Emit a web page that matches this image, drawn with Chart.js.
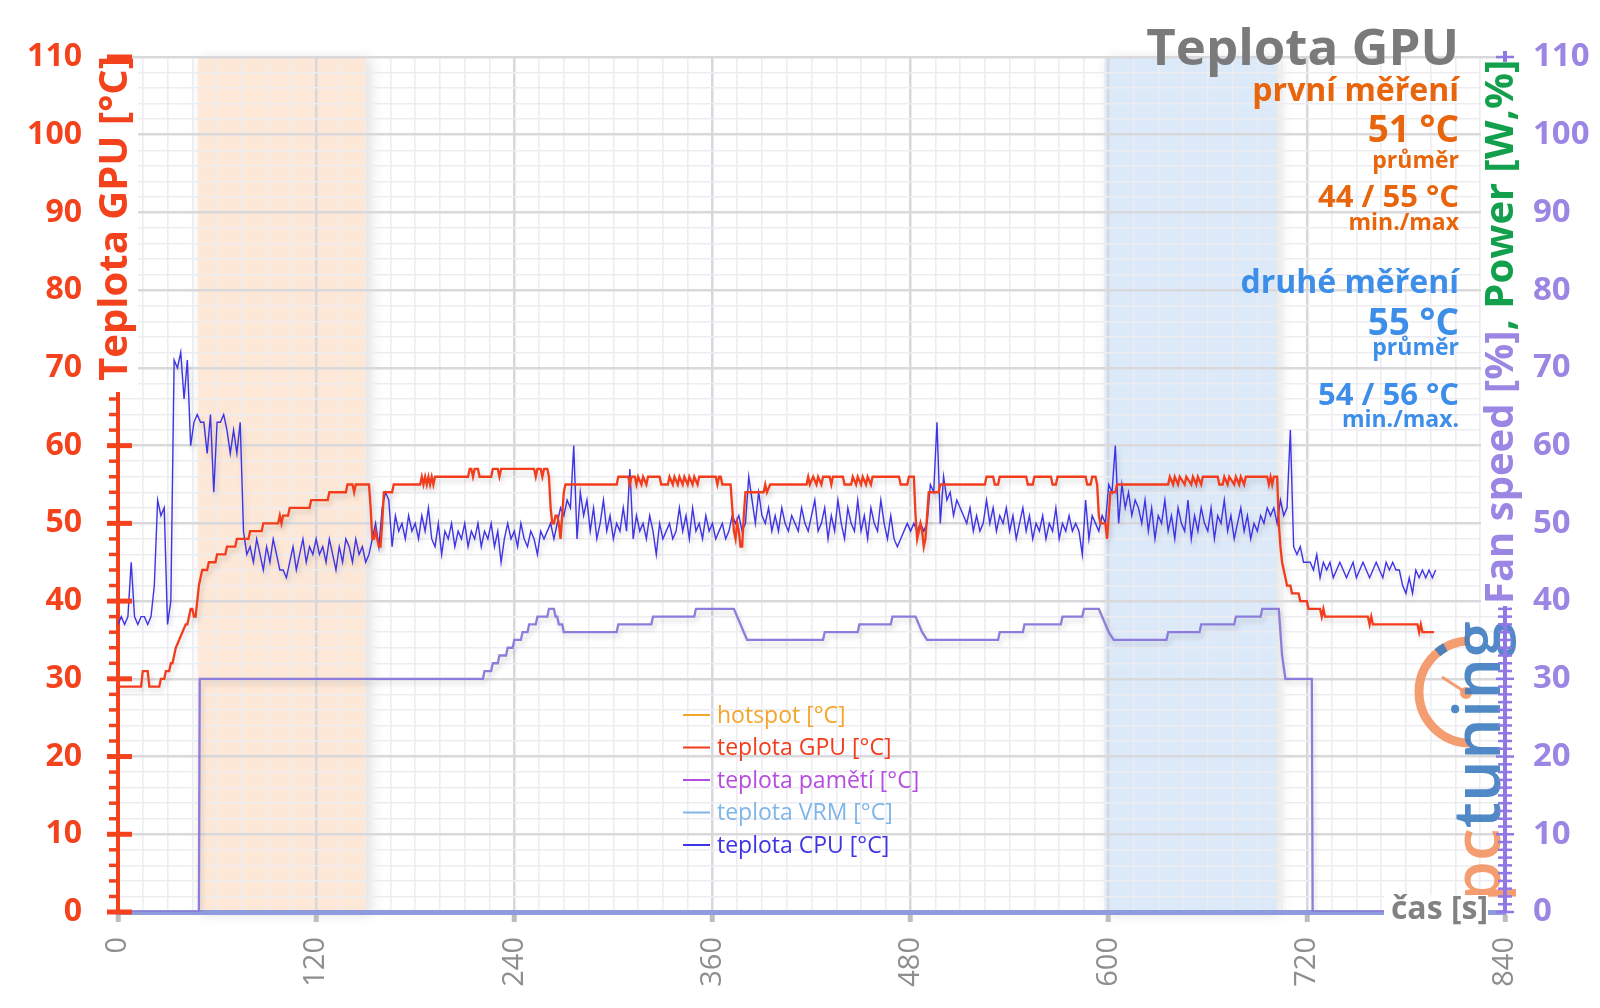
<!DOCTYPE html>
<html><head><meta charset="utf-8">
<script src="https://cdn.jsdelivr.net/npm/chart.js@4.4.0/dist/chart.umd.min.js"></script>
<style>html,body{margin:0;padding:0;background:#fff;}canvas{display:block;}</style>
</head><body>
<canvas id="c" width="1600" height="1008"></canvas>
<script>
// ---------- DATA ----------
const xTickLabels = [0,120,240,360,480,600,720,840];
const yTickLabels = [0,10,20,30,40,50,60,70,80,90,100,110];
const bandRanges = [[48.6,150.5],[597.5,701.5]];
const legendNames = ['hotspot [°C]','teplota GPU [°C]','teplota pamětí [°C]','teplota VRM [°C]','teplota CPU [°C]'];
const chartTitle = 'Teplota GPU';
const infoFirst = ['první měření','51 °C','průměr','44 / 55 °C','min./max'];
const infoSecond = ['druhé měření','55 °C','průměr','54 / 56 °C','min./max.'];
const leftAxisTitle = 'Teplota GPU [°C]';
const rightAxisTitle = ['Fan speed [%]',', Power [W,%]'];
const xAxisTitle = 'čas [s]';

// GPU temperature [time s, °C]
const gpuPts = [[0,29],[14,29],[15,31],[18,31],[19,29],[25,29],[26,30],[28,30],[29,31],[31,31],[32,32],[33,32],[34,33],[35,34],[37,35],[39,36],[41,37],[42,37],[43,38],[44,39],[45,39],[46,38],[47,38],[48,40],[49,42],[50,43],[51,44],[54,44],[55,45],[59,45],[60,46],[65,46],[66,47],[71,47],[72,48],[79,48],[80,49],[87,49],[88,50],[97,50],[98,51],[99,50],[100,51],[103,51],[104,52],[116,52],[117,53],[127,53],[128,54],[138,54],[139,55],[142,55],[143,54],[144,55],[152,55],[153,52],[154,48],[155,48],[156,49],[157,48],[158,47],[159,47],[160,50],[161,54],[166,54],[167,55],[183,55],[184,56],[185,55],[186,56],[187,55],[188,56],[189,55],[190,56],[191,55],[192,56],[212,56],[213,57],[214,57],[215,56],[216,57],[218,57],[219,56],[226,56],[227,57],[230,57],[231,56],[232,57],[252,57],[253,56],[254,57],[256,57],[257,56],[258,57],[260,57],[261,56],[262,52],[263,50],[264,50],[265,51],[266,51],[267,50],[268,48],[269,51],[270,54],[271,55],[302,55],[303,56],[309,56],[310,55],[311,56],[313,56],[314,55],[315,56],[317,55],[318,56],[320,55],[321,56],[328,56],[329,55],[333,55],[334,56],[336,55],[337,56],[339,55],[340,56],[342,55],[343,56],[345,55],[346,56],[348,55],[349,56],[351,55],[352,56],[362,56],[363,55],[364,56],[365,56],[366,55],[371,55],[372,52],[373,49],[374,48],[375,50],[376,49],[377,47],[378,47],[379,51],[380,54],[391,54],[392,55],[393,54],[395,55],[417,55],[418,56],[419,55],[421,56],[423,55],[424,56],[426,55],[427,56],[431,56],[432,55],[433,56],[439,56],[440,55],[444,55],[445,56],[447,55],[448,56],[450,55],[451,56],[453,55],[454,56],[456,55],[457,56],[473,56],[474,55],[478,55],[479,56],[482,56],[483,51],[484,48],[485,49],[486,50],[487,49],[488,47],[489,48],[490,51],[491,54],[497,54],[498,55],[525,55],[526,56],[530,56],[531,55],[533,55],[534,56],[550,56],[551,55],[554,55],[555,56],[565,56],[566,55],[568,55],[569,56],[586,56],[587,55],[589,55],[590,56],[592,56],[593,55],[594,51],[595,50],[598,50],[599,48],[600,51],[601,54],[604,54],[605,55],[636,55],[637,56],[639,55],[640,56],[642,55],[643,56],[646,55],[647,56],[650,55],[651,56],[653,55],[654,56],[656,55],[657,56],[666,56],[667,55],[669,55],[670,56],[672,55],[673,56],[676,55],[677,56],[679,55],[680,56],[682,55],[683,56],[696,56],[697,55],[698,56],[699,55],[700,56],[702,56],[703,50],[704,47],[705,45],[706,44],[707,43],[708,42],[710,42],[711,41],[715,41],[716,40],[720,40],[721,39],[728,39],[729,38],[730,39],[731,38],[757,38],[758,37],[759,38],[760,37],[787,37],[788,36],[789,37],[790,36],[797,36]];

// CPU temperature, one value every cpuStep seconds from t = 0
const cpuStep = 2;
const cpu = [
37,38,37,38,45,38,37,38,38,37,
38,42,53,51,52,37,40,71,70,72,
66,71,60,63,64,63,63,59,64,54,
63,63,64,62,59,62,59,63,49,46,
47,45,48,46,44,47,45,48,46,44,
44,43,45,47,44,46,48,45,47,46,
48,46,47,45,48,46,44,47,45,48,
47,45,48,46,47,45,46,48,50,47,
52,54,53,47,51,49,50,48,51,49,
50,48,51,49,52,48,47,50,46,49,
48,50,47,49,48,50,47,49,48,50,
47,49,48,50,47,49,45,48,50,48,
49,47,50,48,47,49,48,46,49,48,
49,50,48,50,52,51,53,52,60,48,
54,51,53,49,52,48,50,53,49,51,
48,50,49,52,49,57,48,51,49,50,
48,51,49,46,50,48,49,50,48,49,
52,49,51,48,52,49,50,48,51,49,
50,48,49,50,48,49,51,50,51,49,
50,56,53,50,54,51,50,52,49,51,
49,52,50,49,51,50,49,52,50,49,
51,53,49,50,52,48,51,49,53,50,
48,52,50,49,53,49,51,48,52,50,
49,53,50,48,51,48,47,48,49,50,
49,50,49,50,49,50,55,54,63,50,
56,53,54,51,53,52,51,50,52,49,
51,49,50,53,50,52,49,51,50,52,
49,51,48,50,52,49,51,48,50,49,
51,48,50,49,52,48,50,49,51,49,
50,49,46,53,48,51,50,49,51,50,
55,54,60,50,55,52,54,51,53,52,
50,53,49,52,48,51,50,53,49,51,
48,52,50,49,53,48,51,49,52,50,
49,52,48,51,50,53,49,51,48,50,
52,49,51,48,50,49,51,50,52,51,
52,50,53,51,52,62,47,46,47,45,
45,45,44,46,43,45,44,45,43,44,
45,44,43,44,45,43,44,45,44,43,
44,45,44,43,45,44,45,44,44,42,
41,43,41,44,43,44,43,44,43,44];

// Fan speed [%] [time s, %]
const fanPts = [[0,0],[49,0],[49.5,30],[221,30],[222,31],[226,31],[227,32],[230,32],[231,33],[235,33],[236,34],[239,34],[240,35],[244,35],[245,36],[248,36],[249,37],[253,37],[254,38],[260,38],[261,39],[264,39],[265,38],[266,38],[267,37],[269,37],[270,36],[302,36],[303,37],[323,37],[324,38],[349,38],[350,39],[373,39],[375,38],[377,37],[379,36],[381,35],[427,35],[428,36],[448,36],[449,37],[468,37],[469,38],[483,38],[485,37],[487,36],[490,35],[533,35],[534,36],[548,36],[549,37],[571,37],[572,38],[584,38],[585,39],[594,39],[596,38],[598,37],[600,36],[603,35],[635,35],[636,36],[655,36],[656,37],[676,37],[677,38],[692,38],[693,39],[703,39],[705,33],[707,30],[723,30],[723.5,0],[798,0]];

// ---------- STYLE ----------
const FONT = "'Open Sans', 'Noto Sans', sans-serif";
const C = {
  hot:'#f4a52a', gpu:'#f33c1c', mem:'#b54ddf', vrm:'#7fb6e8', cpu:'#3f33e6',
  fan:'#8c7ddc', leftAx:'#f3421c', rightAx:'#9b86e4', green:'#12a04c',
  orange:'#e8650c', blue:'#3d8ee8', gray:'#7a7a7a'
};
const bandColors = ['#fde7d6','#dce9f9'];
const legendColors = [C.hot, C.gpu, C.mem, C.vrm, C.cpu];

function drawLogo(ctx){
  ctx.save();
  ctx.globalAlpha = 0.9;
  ctx.strokeStyle = '#f39262'; ctx.lineWidth = 9;
  ctx.beginPath(); ctx.arc(1470,692,51,-Math.PI/2,Math.PI/2,true); ctx.stroke();
  ctx.strokeStyle = '#3d7cc0'; ctx.lineWidth = 9;
  ctx.beginPath(); ctx.arc(1470,692,51,-Math.PI*0.72,-Math.PI*0.66,false); ctx.stroke();
  ctx.strokeStyle = '#f39262'; ctx.lineWidth = 3;
  ctx.beginPath(); ctx.moveTo(1442,677); ctx.lineTo(1465,692); ctx.stroke();
  ctx.fillStyle = '#f39262'; ctx.beginPath(); ctx.arc(1466,693,6,0,Math.PI*2); ctx.fill();
  ctx.translate(1500,902); ctx.rotate(-Math.PI/2);
  ctx.font = "600 66px " + FONT; ctx.textBaseline = 'alphabetic'; ctx.textAlign='left';
  ctx.fillStyle = '#f39262'; ctx.fillText('pc',0,0);
  const w = ctx.measureText('pc').width;
  ctx.fillStyle = '#3d7cc0'; ctx.fillText('tuning',w,0);
  ctx.restore();
}

const decor = {
  id:'decor',
  beforeDraw(chart){
    const {ctx, chartArea:a} = chart; const x = chart.scales.x;
    ctx.save();
    ctx.fillStyle = '#fff'; ctx.fillRect(0,0,chart.width,chart.height);
    bandRanges.forEach((r,i)=>{
      const x1 = x.getPixelForValue(r[0]), x2 = x.getPixelForValue(r[1]);
      ctx.save();
      ctx.shadowColor='rgba(110,110,110,0.22)'; ctx.shadowBlur=12; ctx.shadowOffsetX=4; ctx.shadowOffsetY=2;
      ctx.fillStyle = bandColors[i];
      ctx.fillRect(x1,a.top,x2-x1,a.bottom-a.top);
      ctx.restore();
    });
    ctx.restore();
  },
  beforeDatasetsDraw(chart){ drawLogo(chart.ctx); },
  beforeDatasetDraw(chart){
    const c = chart.ctx; c.save();
    c.shadowColor='rgba(0,0,0,0.15)'; c.shadowBlur=5; c.shadowOffsetX=2; c.shadowOffsetY=4;
  },
  afterDatasetDraw(chart){ chart.ctx.restore(); },
  afterDraw(chart){
    const {ctx, chartArea:a} = chart; const y = chart.scales.y, y2 = chart.scales.y2;
    ctx.save();
    // x axis title background
    ctx.fillStyle='#fff'; ctx.fillRect(1384,895,104,30);
    // right axis line + ticks
    ctx.strokeStyle = '#8f78e6'; ctx.lineWidth = 4;
    ctx.beginPath(); ctx.moveTo(a.right,a.top-6); ctx.lineTo(a.right,a.bottom); ctx.stroke();
    ctx.lineWidth = 2.5;
    for(let v=0; v<=110; v++){
      const py = y2.getPixelForValue(v);
      const L = v%10===0 ? 9 : 7;
      ctx.beginPath(); ctx.moveTo(a.right-L,py); ctx.lineTo(a.right+L,py); ctx.stroke();
    }
    // left axis ticks
    ctx.strokeStyle = C.leftAx;
    for(let v=0; v<=110; v+=2){
      const py = y.getPixelForValue(v);
      ctx.beginPath();
      if(v%10===0){ ctx.lineWidth=5; ctx.moveTo(a.left-11,py); ctx.lineTo(a.left+14,py); }
      else { ctx.lineWidth=3.5; ctx.moveTo(a.left-9,py); ctx.lineTo(a.left,py); }
      ctx.stroke();
    }
    // legend
    ctx.font = "23px " + FONT; ctx.textBaseline='middle'; ctx.textAlign='left';
    legendNames.forEach((n,i)=>{
      const ly = 715 + i*32.5;
      ctx.strokeStyle = legendColors[i]; ctx.lineWidth = 2;
      ctx.beginPath(); ctx.moveTo(683,ly); ctx.lineTo(710,ly); ctx.stroke();
      ctx.fillStyle = legendColors[i]; ctx.fillText(n,717,ly+1);
    });
    // left axis title
    ctx.fillStyle='#fff'; ctx.fillRect(96,60,42,332);
    ctx.save();
    ctx.translate(116,56); ctx.rotate(-Math.PI/2);
    ctx.font = "bold 40px " + FONT; ctx.textAlign='right'; ctx.textBaseline='middle';
    ctx.fillStyle = C.leftAx; ctx.fillText(leftAxisTitle,0,0);
    ctx.restore();
    // right axis title
    ctx.fillStyle='#fff'; ctx.fillRect(1481,62,41,544);
    ctx.save();
    ctx.translate(1502,604); ctx.rotate(-Math.PI/2);
    ctx.font = "bold 40px " + FONT; ctx.textAlign='left'; ctx.textBaseline='middle';
    ctx.fillStyle = C.rightAx; ctx.fillText(rightAxisTitle[0],0,0);
    const w0 = ctx.measureText(rightAxisTitle[0]).width;
    ctx.fillStyle = C.green; ctx.fillText(rightAxisTitle[1],w0,0);
    ctx.restore();
    // x axis title
    ctx.font = "bold 32px " + FONT; ctx.textAlign='right'; ctx.textBaseline='middle';
    ctx.fillStyle = '#828282'; ctx.fillText(xAxisTitle,1488,910);
    // title + info
    ctx.textAlign='right'; ctx.textBaseline='alphabetic';
    ctx.fillStyle = C.gray; ctx.font = "bold 51px " + FONT; ctx.fillText(chartTitle,1459,65);
    const sizes = [32,37,23,31,23];
    const base1 = [101,142,168,207,230];
    const base2 = [293,335,355,405,427];
    infoFirst.forEach((t,i)=>{ ctx.fillStyle=C.orange; ctx.font="bold "+sizes[i]+"px "+FONT; ctx.fillText(t,1459,base1[i]); });
    infoSecond.forEach((t,i)=>{ ctx.fillStyle=C.blue; ctx.font="bold "+sizes[i]+"px "+FONT; ctx.fillText(t,1459,base2[i]); });
    ctx.restore();
  }
};

const majorX = v => v % 120 === 0;
const majorY = v => v % 10 === 0;

new Chart(document.getElementById('c'), {
  type:'line',
  data:{ datasets:[
    {label:legendNames[0], data:[], borderColor:C.hot},
    {label:legendNames[1], data:gpuPts.map(p=>({x:p[0],y:p[1]})), borderColor:C.gpu, borderWidth:2.3, yAxisID:'y'},
    {label:legendNames[2], data:[], borderColor:C.mem},
    {label:legendNames[3], data:[], borderColor:C.vrm},
    {label:legendNames[4], data:cpu.map((v,i)=>({x:i*cpuStep,y:v})), borderColor:C.cpu, borderWidth:1.4, yAxisID:'y'},
    {label:'fan', data:fanPts.map(p=>({x:p[0],y:p[1]})), borderColor:C.fan, borderWidth:2.3, yAxisID:'y2'}
  ]},
  options:{
    responsive:false, animation:false, devicePixelRatio:1,
    layout:{padding:{top:57,left:0,right:0,bottom:0}},
    elements:{point:{radius:0}, line:{tension:0, fill:false}},
    plugins:{legend:{display:false}, tooltip:{enabled:false}},
    scales:{
      x:{type:'linear', position:'bottom', min:0, max:840,
        afterFit:s=>{s.height=96;},
        border:{color:'#8e9bdc', width:5},
        grid:{color:c=>majorX(c.tick.value)?'#d7d7dd':'#ececf1', lineWidth:c=>majorX(c.tick.value)?2.5:1.5,
              drawTicks:true, tickLength:10, tickWidth:5, tickColor:c=>majorX(c.tick.value)?'#bdbdbd':'rgba(0,0,0,0)'},
        ticks:{stepSize:15, autoSkip:false, minRotation:90, maxRotation:90, padding:15, color:'#8e8e8e',
               font:{family:FONT, size:29}, callback:v=>xTickLabels.includes(v)?String(v):''}
      },
      y:{position:'left', min:0, max:110,
        afterFit:s=>{s.width=118;},
        border:{color:C.leftAx, width:4},
        grid:{color:c=>majorY(c.tick.value)?'#d9d9dc':'#ededf1', lineWidth:c=>majorY(c.tick.value)?2.5:1.5, drawTicks:false},
        ticks:{stepSize:2, autoSkip:false, padding:36, color:C.leftAx, font:{family:FONT, size:32, weight:'bold'},
               callback:v=>yTickLabels.includes(v)?String(v):''}
      },
      y2:{position:'right', min:0, max:110,
        afterFit:s=>{s.width=95;},
        border:{color:'#8f78e6', width:4},
        grid:{drawOnChartArea:false, drawTicks:false},
        ticks:{stepSize:10, autoSkip:false, padding:28, color:C.rightAx, font:{family:FONT, size:33, weight:'bold'},
               callback:v=>yTickLabels.includes(v)?String(v):''}
      }
    }
  },
  plugins:[decor]
});
</script>
</body></html>
